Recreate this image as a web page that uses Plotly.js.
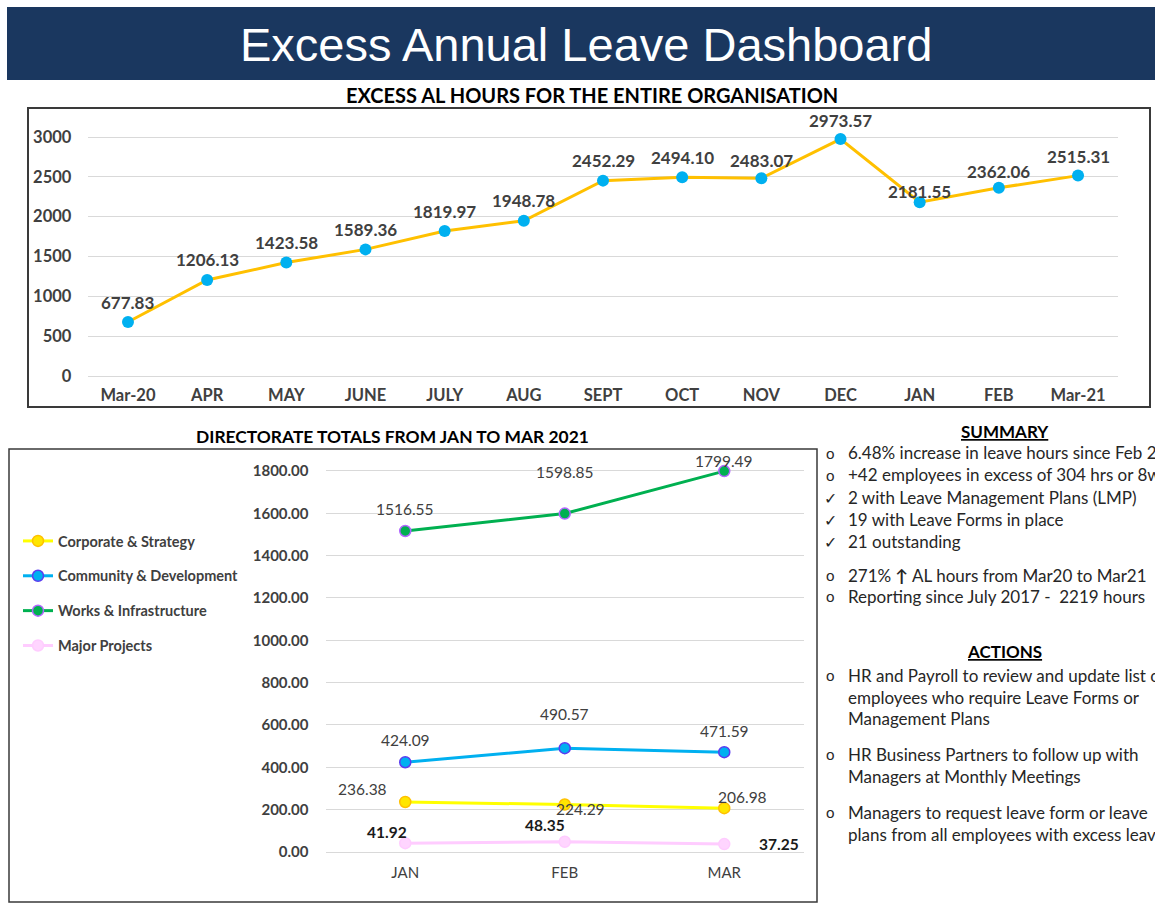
<!DOCTYPE html>
<html>
<head>
<meta charset="utf-8">
<script src="https://cdn.plot.ly/plotly-3.0.1.min.js"></script>
<style>html,body{margin:0;padding:0;overflow:hidden;background:#fff}#chart{width:1155px;height:903px}</style>
</head>
<body>
<div id="chart"></div>
<script>
// ---- Data ----
var months = ['Mar-20','APR','MAY','JUNE','JULY','AUG','SEPT','OCT','NOV','DEC','JAN','FEB','Mar-21'];
var hours = [677.83,1206.13,1423.58,1589.36,1819.97,1948.78,2452.29,2494.10,2483.07,2973.57,2181.55,2362.06,2515.31];

var quarters = ['JAN','FEB','MAR'];
var corporate = [236.38,224.29,206.98];
var community = [424.09,490.57,471.59];
var works = [1516.55,1598.85,1799.49];
var major = [41.92,48.35,37.25];

var seriesNames = ['Corporate & Strategy','Community & Development','Works & Infrastructure','Major Projects'];

var summaryLines = [
  ['o','6.48% increase in leave hours since Feb 2021'],
  ['o','+42 employees in excess of 304 hrs or 8wks'],
  ['\u2713','2 with Leave Management Plans (LMP)'],
  ['\u2713','19 with Leave Forms in place'],
  ['\u2713','21 outstanding'],
  ['o','271% <b>\u2191</b> AL hours from Mar20 to Mar21'],
  ['o','Reporting since July 2017 -  2219 hours']
];
var actionLines = [
  ['o','HR and Payroll to review and update list of'],
  ['','employees who require Leave Forms or'],
  ['','Management Plans'],
  ['o','HR Business Partners to follow up with'],
  ['','Managers at Monthly Meetings'],
  ['o','Managers to request leave form or leave'],
  ['','plans from all employees with excess leave']
];

// ---- Layout helpers (pixel -> paper) ----
var W = 1155, H = 903;
function px(x){return x/W;}
function py(y){return 1 - y/H;}
var FONT = 'Lato, "Open Sans", sans-serif';

// label offsets (pixels)
var topShift = [20,20,20,20,20,20,20,20,18,19,11,16,19];
var worksShift = [[0,22],[0,42],[0,10]];
var communityShift = [[0,22],[0,34],[0,21]];
var corporateShift = [[-43,13],[16,-4],[18,11]];
var majorShift = [[-18,11],[-20,17],[55,0]];

var traces = [];
traces.push({
  x: months, y: hours, xaxis:'x', yaxis:'y', type:'scatter', mode:'lines+markers',
  line:{color:'#FFC000', width:3}, marker:{color:'#00B0F0', size:12}, showlegend:false, hoverinfo:'skip'
});

var bottomSeries = [
  {name:seriesNames[0], y:corporate, line:'#FFFF00', fill:'#FFE600', border:'#FFC000'},
  {name:seriesNames[1], y:community, line:'#00B0F0', fill:'#00B0F0', border:'#5B3CF0'},
  {name:seriesNames[2], y:works, line:'#00B050', fill:'#00B050', border:'#B266FF'},
  {name:seriesNames[3], y:major, line:'#FFCCFF', fill:'#FFD5FF', border:'#FFCCFF'}
];
bottomSeries.forEach(function(s,i){
  traces.push({
    x: quarters, y: s.y, xaxis:'x2', yaxis:'y2', type:'scatter', mode:'lines+markers', name:s.name,
    legendgroup:'g'+i,
    line:{color:s.line, width:3}, marker:{color:s.fill, size:11, line:{color:s.border, width:1.5}},
    hoverinfo:'skip'
  });
});

var annotations = [];
function note(o){ o.showarrow=false; if(!o.xanchor)o.xanchor='center'; if(!o.yanchor)o.yanchor='middle'; annotations.push(o); }
// top labels
months.forEach(function(m,i){
  note({xref:'x', yref:'y', x:m, y:hours[i], text:hours[i].toFixed(2),
    yshift:topShift[i], font:{family:FONT, size:17, color:'#404040', weight:'bold'}});
});
function addBottom(vals, shifts, bold, color){
  quarters.forEach(function(q,i){
    note({xref:'x2', yref:'y2', x:q, y:vals[i], text:vals[i].toFixed(2),
      xshift:shifts[i][0], yshift:shifts[i][1], font:{family:FONT, size:15.5, color:color, weight:bold?'bold':'normal'}});
  });
}
addBottom(works, worksShift, false, '#404040');
addBottom(community, communityShift, false, '#404040');
addBottom(corporate, corporateShift, false, '#404040');
addBottom(major, majorShift, true, '#1a1a1a');

// titles
note({xref:'paper', yref:'paper', x:px(586), y:py(44), text:'Excess Annual Leave Dashboard',
  font:{family:'"Liberation Sans", Arial, sans-serif', size:47, color:'#ffffff'}});
note({xref:'paper', yref:'paper', x:px(592), y:py(95), text:'<b>EXCESS AL HOURS FOR THE ENTIRE ORGANISATION</b>',
  font:{family:FONT, size:20, color:'#000000'}});
note({xref:'paper', yref:'paper', x:px(392), y:py(436), text:'<b>DIRECTORATE TOTALS FROM JAN TO MAR 2021</b>',
  font:{family:FONT, size:17.4, color:'#000000'}});

// right panel text
note({xref:'paper', yref:'paper', x:px(1005), y:py(431), text:'<b><u>SUMMARY</u></b>',
  font:{family:FONT, size:17, color:'#000000'}});
note({xref:'paper', yref:'paper', x:px(1004), y:py(651), text:'<b><u>ACTIONS</u></b>',
  font:{family:FONT, size:17, color:'#000000'}});
var summaryY = [453,475,497,519,541,575,596];
var actionY = [675,697,718,754,776,812,834];
function addLines(lines, ys){
  lines.forEach(function(l,i){
    if(l[0]){
      note({xref:'paper', yref:'paper', x:px(830), y:py(ys[i]), text:l[0],
        font:{family:FONT, size:l[0]==='o'?15:16, color:'#262626'}});
    }
    note({xref:'paper', yref:'paper', x:px(846), y:py(ys[i]), text:l[1], xanchor:'left',
      font:{family:FONT, size:17, color:'#262626'}});
  });
}
addLines(summaryLines, summaryY);
addLines(actionLines, actionY);

var shapes = [
  {type:'rect', xref:'paper', yref:'paper', x0:px(7), x1:px(1160), y0:py(7), y1:py(80), fillcolor:'#1A375F', line:{width:0}, layer:'below'},
  {type:'rect', xref:'paper', yref:'paper', x0:px(28), x1:px(1150), y0:py(108), y1:py(407), fillcolor:'rgba(0,0,0,0)', line:{color:'#3a3a3a', width:2}},
  {type:'rect', xref:'paper', yref:'paper', x0:px(9), x1:px(817), y0:py(449), y1:py(902), fillcolor:'rgba(0,0,0,0)', line:{color:'#3a3a3a', width:1.5}}
];

var layout = {
  width:W, height:H, autosize:false,
  margin:{l:0,r:0,t:0,b:0},
  paper_bgcolor:'#ffffff', plot_bgcolor:'rgba(0,0,0,0)',
  font:{family:FONT, color:'#404040'},
  showlegend:true,
  xaxis:{domain:[px(88.4), px(1117.6)], type:'category', range:[-0.5,12.5], showgrid:false, zeroline:false, showline:false,
    tickfont:{family:FONT, size:16.5, color:'#404040', weight:'bold'}, ticks:'', ticklabelstandoff:7, fixedrange:true},
  yaxis:{domain:[py(376), py(113.1)], range:[0,3300], tickvals:[0,500,1000,1500,2000,2500,3000],
    showgrid:true, gridcolor:'#D9D9D9', gridwidth:1, zeroline:true, zerolinecolor:'#D9D9D9', zerolinewidth:1, showline:false,
    tickfont:{family:FONT, size:16.5, color:'#404040', weight:'bold'}, ticks:'', ticklabelstandoff:16, fixedrange:true},
  xaxis2:{domain:[px(325.5), px(804)], type:'category', range:[-0.5,2.5], anchor:'y2', showgrid:false, zeroline:false, showline:false,
    tickfont:{family:FONT, size:15, color:'#404040'}, ticks:'', ticklabelstandoff:10, fixedrange:true},
  yaxis2:{domain:[py(852), py(460.4)], range:[0,1850], anchor:'x2', tickvals:[0,200,400,600,800,1000,1200,1400,1600,1800],
    ticktext:['0.00','200.00','400.00','600.00','800.00','1000.00','1200.00','1400.00','1600.00','1800.00'],
    showgrid:true, gridcolor:'#D9D9D9', gridwidth:1, zeroline:true, zerolinecolor:'#D9D9D9', zerolinewidth:1, showline:false,
    tickfont:{family:FONT, size:15, color:'#404040', weight:'bold'}, ticks:'', ticklabelstandoff:16, fixedrange:true},
  legend:{x:px(18), y:py(525), xanchor:'left', yanchor:'top', tracegroupgap:13, bgcolor:'rgba(0,0,0,0)',
    font:{family:FONT, size:14.5, color:'#404040', weight:'bold'}, traceorder:'grouped'},
  annotations:annotations,
  shapes:shapes
};

Plotly.newPlot('chart', traces, layout, {staticPlot:true, displayModeBar:false});
</script>
</body>
</html>
